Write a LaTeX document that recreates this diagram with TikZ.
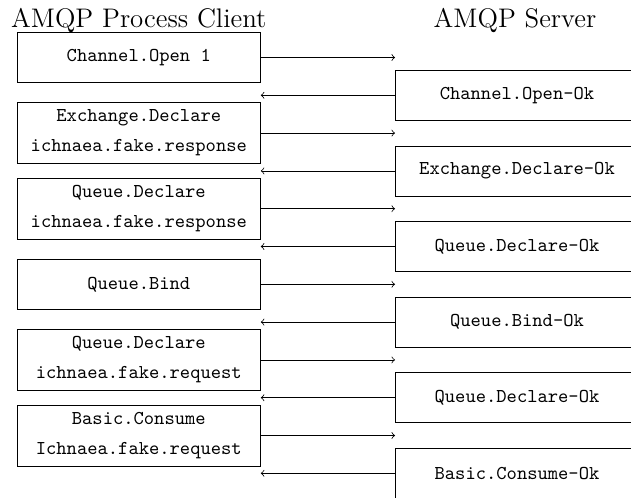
\documentclass[tikz,border=0pt]{standalone}

\begin{document}
\begin{tikzpicture}[x=0.51pt,y=-0.51pt,
    msg/.style={draw, font=\ttfamily\fontsize{10}{15.3}\selectfont, align=center,
        minimum width=124pt, minimum height=25.5pt, inner sep=3.33pt},
    twoline/.style={msg, minimum height=31.1pt},
    title/.style={font=\fontsize{13.7}{16}\selectfont, anchor=base}]

    \def\universe{(0,0) rectangle (631,497)}
    \def\clientx{138.8}
    \def\serverx{517}

    \useasboundingbox \universe;

    %titles:
    \node[title] (client) at (\clientx,27) {AMQP Process Client};
    \node[title] (server) at (515,27) {AMQP Server};

    %client side:
    \node[msg] (c1) at (\clientx,57.5) {Channel.Open 1};
    \node[twoline] (c2) at (\clientx,133.1) {Exchange.Declare\\ichnaea.fake.response};
    \node[twoline] (c3) at (\clientx,208.7) {Queue.Declare\\ichnaea.fake.response};
    \node[msg] (c4) at (\clientx,284.3) {Queue.Bind};
    \node[twoline] (c5) at (\clientx,359.9) {Queue.Declare\\ichnaea.fake.request};
    \node[twoline] (c6) at (\clientx,435.5) {Basic.Consume\\Ichnaea.fake.request};

    %server side:
    \node[msg] (s1) at (\serverx,95.3) {Channel.Open-Ok};
    \node[msg] (s2) at (\serverx,170.9) {Exchange.Declare-Ok};
    \node[msg] (s3) at (\serverx,246.5) {Queue.Declare-Ok};
    \node[msg] (s4) at (\serverx,322.1) {Queue.Bind-Ok};
    \node[msg] (s5) at (\serverx,397.7) {Queue.Declare-Ok};
    \node[msg] (s6) at (\serverx,473.3) {Basic.Consume-Ok};

    %draw requests:
    \draw[->] (c1.east) -- (c1.east -| s1.west);
    \draw[->] (c2.east) -- (c2.east -| s2.west);
    \draw[->] (c3.east) -- (c3.east -| s3.west);
    \draw[->] (c4.east) -- (c4.east -| s4.west);
    \draw[->] (c5.east) -- (c5.east -| s5.west);
    \draw[->] (c6.east) -- (c6.east -| s6.west);

    %draw replies:
    \draw[->] (s1.west) -- (s1.west -| c1.east);
    \draw[->] (s2.west) -- (s2.west -| c2.east);
    \draw[->] (s3.west) -- (s3.west -| c3.east);
    \draw[->] (s4.west) -- (s4.west -| c4.east);
    \draw[->] (s5.west) -- (s5.west -| c5.east);
    \draw[->] (s6.west) -- (s6.west -| c6.east);

\end{tikzpicture}
\end{document}
